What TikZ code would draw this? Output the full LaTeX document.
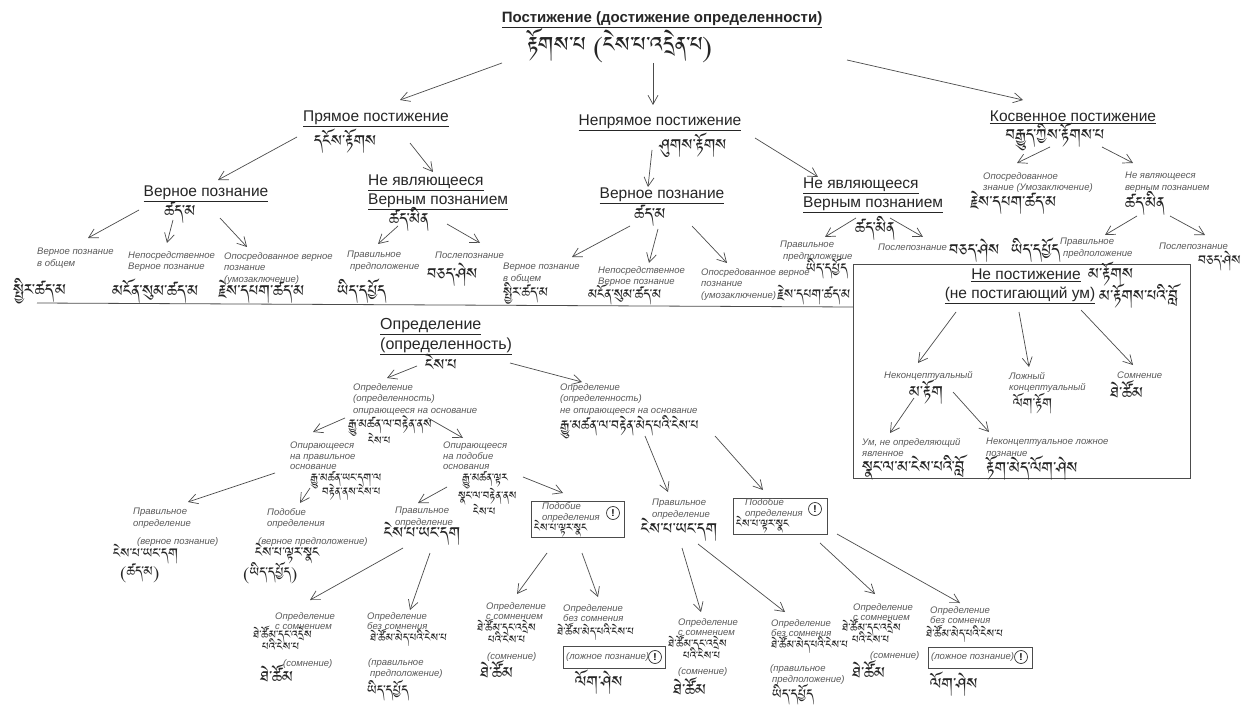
\documentclass[tikz,border=0pt]{standalone}
\usepackage{fontspec}
\usetikzlibrary{arrows.meta}
\setmainfont{Liberation Sans}
\IfFontExistsTF{Jomolhari}{\newfontfamily\tibfam[Script=Tibetan]{Jomolhari}}{%
 \IfFontExistsTF{Tibetan Machine Uni}{\newfontfamily\tibfam[Script=Tibetan]{Tibetan Machine Uni}}{%
 \IfFontExistsTF{FreeSerif}{\newfontfamily\tibfam[Script=Tibetan]{FreeSerif}}{\newfontfamily\tibfam{Noto Sans}}}}
\newcommand\myhf{\fontsize{15.5}{18.5}\selectfont}
\newcommand\myttl{\fontsize{15}{18}\selectfont\bfseries}
\newcommand\mylab{\fontsize{9.5}{11.5}\selectfont\itshape}
\newcommand\mylabt{\fontsize{9.5}{10.5}\selectfont\itshape}
\newcommand\mytb{\tibfam\fontsize{20}{22}\selectfont}
\newcommand\mytbm{\tibfam\fontsize{17}{19}\selectfont}
\newcommand\mytbl{\tibfam\fontsize{27}{29}\selectfont}
\newcommand\mytbs{\tibfam\fontsize{14}{15}\selectfont}
\begin{document}
\begin{tikzpicture}[x=1pt,y=-1pt,
 hd/.style={font=\myhf, inner sep=0pt, text=black!85},
 hdm/.style={font=\myhf, inner sep=0pt, text=black!85, align=left, anchor=north west},
 ttl/.style={font=\myttl, inner sep=0pt, text=black!85},
 lab/.style={font=\mylab, inner sep=0pt, anchor=north west, align=left, text=black!65},
 labt/.style={font=\mylabt, inner sep=0pt, anchor=north west, align=left, text=black!65},
 tb/.style={font=\mytb, inner sep=0pt, text=black!85},
 tbm/.style={font=\mytbm, inner sep=0pt, text=black!85},
 tbl/.style={font=\mytbl, inner sep=0pt, text=black!85},
 tbs/.style={font=\mytbs, inner sep=0pt, text=black!85},
 arr/.style={draw=black!70, line width=0.7pt, -{Straight Barb[length=9pt,width=10pt]}},
 bx/.style={draw=black!70, line width=0.8pt, anchor=north west, inner sep=0pt},
 exc/.style={circle, draw=black!80, line width=0.7pt, inner sep=0pt, minimum size=13pt, font=\fontsize{10}{10}\selectfont\bfseries}
]
\fill[white] (0,0) rectangle (1250,711);
\useasboundingbox (0,0) rectangle (1250,711);

% ---------- top ----------
\node[ttl] (root) at (662,20) {\underline{Постижение (достижение определенности)}};
\node[tbl] (rootT) at (620,46) {རྟོགས་པ (ངེས་པ་འདྲེན་པ)};

\node[hd] (pr) at (376,119) {\underline{Прямое постижение}};
\node[tb] (prT) at (345,141) {དངོས་རྟོགས};
\node[hd] (np) at (660,123) {\underline{Непрямое постижение}};
\node[tb] (npT) at (693,145) {ཤུགས་རྟོགས};
\node[hd] (kp) at (1073,117) {\underline{Косвенное постижение}};
\node[tb] (kpT) at (1055,137) {བརྒྱུད་ཀྱིས་རྟོགས་པ};

\draw[arr] ([shift={(-118,17)}]rootT.center) -- ([shift={(24,-19)}]pr.center);
\draw[arr] ([shift={(33,17)}]rootT.center) -- ([shift={(-7,-18)}]np.center);
\draw[arr] ([shift={(185,40)}]root.center) -- ([shift={(-50,-17)}]kp.center);

% ---------- direct ----------
\node[hd] (vp1) at (206,194) {\underline{Верное познание}};
\node[tb] (vp1T) at (180,213) {ཚད་མ};
\node[hdm] (nv1) at (368,175) {\underline{Не являющееся}\\\underline{Верным познанием}};
\node[tb] (nv1T) at (409,219) {ཚད་མིན};
\draw[arr] ([shift={(-48,-4)}]prT.center) -- ([shift={(12,-14)}]vp1.center);
\draw[arr] ([shift={(65,2)}]prT.center) -- ([shift={(65,-3)}]nv1.north west);

\node[lab] (l1) at (37,248) {Верное познание\\в общем};
\node[lab] (l2) at (128,251) {Непосредственное\\Верное познание};
\node[lab] (l3) at (224,252) {Опосредованное верное\\познание\\(умозаключение)};
\node[lab] (l4) at (347,251) {Правильное\\\hspace{3pt}предположение};
\node[lab] (l5) at (435,252) {Послепознание};
\node[tb, anchor=west] (l1T) at (13,291) {སྤྱིར་ཚད་མ};
\node[tb, anchor=west] (l2T) at (112,291) {མངོན་སུམ་ཚད་མ};
\node[tb, anchor=west] (l3T) at (218,292) {རྗེས་དཔག་ཚད་མ};
\node[tb, anchor=west] (l4T) at (337,291) {ཡིད་དཔྱོད};
\node[tb, anchor=west] (l5T) at (427,275) {བཅད་ཤེས};
\draw[arr] ([shift={(-41,-3)}]vp1T.center) -- ([shift={(51,-10)}]l1.north west);
\draw[arr] ([shift={(-7,7)}]vp1T.center) -- ([shift={(39,-8)}]l2.north west);
\draw[arr] ([shift={(40,5)}]vp1T.center) -- ([shift={(23,-5)}]l3.north west);
\draw[arr] ([shift={(-11,7)}]nv1T.center) -- ([shift={(31,-7)}]l4.north west);
\draw[arr] ([shift={(38,5)}]nv1T.center) -- ([shift={(45,-9)}]l5.north west);

% ---------- indirect ----------
\node[hd] (vp2) at (662,196) {\underline{Верное познание}};
\node[tb] (vp2T) at (650,216) {ཚད་མ};
\node[hdm] (nv2) at (803,178) {\underline{Не являющееся}\\\underline{Верным познанием}};
\node[tb] (nv2T) at (875,228) {ཚད་མིན};
\draw[arr] ([shift={(-41,5)}]npT.center) -- ([shift={(-14,-9)}]vp2.center);
\draw[arr] ([shift={(62,-7)}]npT.center) -- ([shift={(15,-1)}]nv2.north west);

\node[lab] (m1) at (503,263) {Верное познание\\в общем};
\node[lab] (m2) at (598,266) {Непосредственное\\Верное познание};
\node[lab] (m3) at (701,268) {Опосредованное верное\\познание\\(умозаключение)};
\node[tbm, anchor=west] (m1T) at (503,293) {སྤྱིར་ཚད་མ};
\node[tbm, anchor=west] (m2T) at (588,295) {མངོན་སུམ་ཚད་མ};
\node[tbm, anchor=west] (m3T) at (777,295) {རྗེས་དཔག་ཚད་མ};
\draw[arr] ([shift={(-20,10)}]vp2T.center) -- ([shift={(69,-6)}]m1.north west);
\draw[arr] ([shift={(8,13)}]vp2T.center) -- ([shift={(51,-3)}]m2.north west);
\draw[arr] ([shift={(42,10)}]vp2T.center) -- ([shift={(26,-5)}]m3.north west);

\node[lab] (m4) at (780,241) {Правильное\\\hspace{3pt}предположение};
\node[tbm, anchor=west] (m4T) at (806,269) {ཡིད་དཔྱོད};
\node[lab] (m5) at (878,244) {Послепознание};
\node[tb, anchor=west] (m5T) at (949,251) {བཅད་ཤེས};
\draw[arr] ([shift={(-19,-10)}]nv2T.center) -- ([shift={(45,-4)}]m4.north west);
\draw[arr] ([shift={(15,-10)}]nv2T.center) -- ([shift={(45,-7)}]m5.north west);

% ---------- mediated ----------
\node[lab] (r1) at (983,172) {Опосредованное\\знание (Умозаключение)};
\node[tb, anchor=west] (r1T) at (970,203) {རྗེས་དཔག་ཚད་མ};
\node[lab] (r2) at (1125,172) {Не являющееся\\верным познанием};
\node[tb] (r2T) at (1145,203) {ཚད་མིན};
\draw[arr] ([shift={(-5,10)}]kpT.center) -- ([shift={(34,-9)}]r1.north west);
\draw[arr] ([shift={(47,10)}]kpT.center) -- ([shift={(8,-9)}]r2.north west);

\node[lab] (r3) at (1060,238) {Правильное\\\hspace{3pt}предположение};
\node[tb, anchor=west] (r3T) at (1011,250) {ཡིད་དཔྱོད};
\node[lab] (r4) at (1159,243) {Послепознание};
\node[tbm, anchor=east] (r4T) at (1241,261) {བཅད་ཤེས};
\draw[arr] ([shift={(-8,13)}]r2T.center) -- ([shift={(45,-3)}]r3.north west);
\draw[arr] ([shift={(25,13)}]r2T.center) -- ([shift={(46,-8)}]r4.north west);

% ---------- separator ----------
\coordinate (hl1) at (37,303);
\coordinate (hl2) at (853,307);
\draw[black!70, line width=0.8pt] (hl1) -- (hl2);

% ---------- non-realization box ----------
\node[bx, minimum width=337pt, minimum height=214pt] (nbox) at (853,264) {};
\node[hd] (nb) at (1026,275) {\underline{Не постижение}};
\node[tb, anchor=west] (nbT) at (1088,274) {མ་རྟོགས};
\node[hd] (nb2) at (1020,295) {\underline{(не постигающий ум)}};
\node[tb, anchor=west] (nb2T) at (1099,296) {མ་རྟོགས་པའི་བློ};

\node[lab] (b1) at (884,371) {Неконцептуальный};
\node[tb] (b1T) at (926,392) {མ་རྟོག};
\node[lab] (b2) at (1009,372) {Ложный\\концептуальный};
\node[tbm, anchor=west] (b2T) at (1013,404) {ལོག་རྟོག};
\node[lab] (b3) at (1117,372) {Сомнение};
\node[tb, anchor=west] (b3T) at (1110,391) {ཐེ་ཚོམ};
\draw[arr] ([shift={(-64,17)}]nb2.center) -- ([shift={(34,-8)}]b1.north west);
\draw[arr] ([shift={(-1,17)}]nb2.center) -- ([shift={(20,-5)}]b2.north west);
\draw[arr] ([shift={(61,15)}]nb2.center) -- ([shift={(16,-7)}]b3.north west);

\node[lab] (b4) at (862,438) {Ум, не определяющий\\явленное};
\node[tb, anchor=west] (b4T) at (862,468) {སྣང་ལ་མ་ངེས་པའི་བློ};
\node[lab] (b5) at (986,438) {Неконцептуальное ложное\\познание};
\node[tb, anchor=west] (b5T) at (986,468) {རྟོག་མེད་ལོག་ཤེས};
\draw[arr] ([shift={(-12,6)}]b1T.center) -- ([shift={(28,-5)}]b4.north west);
\draw[arr] ([shift={(27,0)}]b1T.center) -- ([shift={(3,-6)}]b5.north west);

% ---------- determination ----------
\node[hdm, font=\fontsize{16}{20}\selectfont] (dh) at (380,318) {\underline{Определение}\\\underline{(определенность)}};
\node[tb] (dhT) at (441,364) {ངེས་པ};

\node[lab] (d1) at (353,383) {Определение\\(определенность)\\опирающееся на основание};
\node[tbs, font=\tibfam\fontsize{15.5}{17}\selectfont] (d1T) at (390,426) {རྒྱུ་མཚན་ལ་བརྟེན་ནས};
\node[tbs, anchor=west] (d1T2) at (368,440) {ངེས་པ};
\node[lab] (d2) at (560,383) {Определение\\(определенность)\\не опирающееся на основание};
\node[tbm, anchor=west] (d2T) at (560,427) {རྒྱུ་མཚན་ལ་བརྟེན་མེད་པའི་ངེས་པ};
\draw[arr] ([shift={(-24,2)}]dhT.center) -- ([shift={(34,-5)}]d1.north west);
\draw[arr] ([shift={(69,-1)}]dhT.center) -- ([shift={(22,-1)}]d2.north west);

\node[labt] (e1) at (290,442) {Опирающееся\\на правильное\\основание};
\node[tbs] (e1T) at (346,480) {རྒྱུ་མཚན་ཡང་དག་ལ};
\node[tbs, anchor=west] (e1T2) at (322,492) {བརྟེན་ནས་ངེས་པ};
\node[labt] (e2) at (443,442) {Опирающееся\\на подобие\\основания};
\node[tbs] (e2T) at (485,480) {རྒྱུ་མཚན་ལྟར};
\node[tbs, anchor=west] (e2T2) at (458,497) {སྣང་ལ་བརྟེན་ནས};
\node[tbs, anchor=west] (e2T3) at (473,511) {ངེས་པ};
\draw[arr] ([shift={(-45,-8)}]d1T.center) -- ([shift={(23,-10)}]e1.north west);
\draw[arr] ([shift={(38,-8)}]d1T.center) -- ([shift={(20,-4)}]e2.north west);

% left subtree
\node[lab] (f1) at (133,508) {Правильное\\определение};
\node[lab] (f1b) at (137,537) {(верное познание)};
\node[tbm, anchor=west] (f1T) at (113,554) {ངེས་པ་ཡང་དག};
\node[tbm, anchor=west] (f1T2) at (120,573) {(ཚད་མ)};
\node[lab] (f2) at (267,508) {Подобие\\определения};
\node[lab] (f2b) at (258,537) {(верное предположение)};
\node[tbm, anchor=west] (f2T) at (255,554) {ངེས་པ་ལྟར་སྣང};
\node[tbm, anchor=west] (f2T2) at (243,573) {(ཡིད་དཔྱོད)};
\draw[arr] ([shift={(-71,-7)}]e1T.center) -- ([shift={(55,-6)}]f1.north west);
\draw[arr] ([shift={(-36,8)}]e1T.center) -- ([shift={(33,-5)}]f2.north west);

\node[lab] (f3) at (395,507) {Правильное\\определение};
\node[tb] (f3T) at (422,534) {ངེས་པ་ཡང་དག};
\node[bx, minimum width=93pt, minimum height=36pt] (box1) at (531,501) {};
\node[lab] (box1a) at (542,502) {Подобие\\определения};
\node[tbs, anchor=west] (box1T) at (534,529) {ངེས་པ་ལྟར་སྣང};
\node[exc] (box1x) at (613,513) {!};
\draw[arr] ([shift={(-38,7)}]e2T.center) -- ([shift={(23,-4)}]f3.north west);
\draw[arr] ([shift={(38,-3)}]e2T.center) -- ([shift={(32,-8)}]box1.north west);

\node[labt] (g1) at (275,612) {Определение\\с сомнением};
\node[tbs, anchor=west] (g1T1) at (253,635) {ཐེ་ཚོམ་དང་འདྲེས};
\node[tbs, anchor=west] (g1T2) at (262,646) {པའི་ངེས་པ};
\node[lab] (g1c) at (283,659) {(сомнение)};
\node[tb, anchor=west] (g1T3) at (260,675) {ཐེ་ཚོམ};
\node[labt] (g2) at (367,612) {Определение\\без сомнения};
\node[tbs, anchor=west] (g2T1) at (370,638) {ཐེ་ཚོམ་མེད་པའི་ངེས་པ};
\node[lab] (g2c) at (368,658) {(правильное\\\hspace{2pt}предположение)};
\node[tbm, anchor=west] (g2T2) at (367,691) {ཡིད་དཔྱོད};
\draw[arr] ([shift={(-19,14)}]f3T.center) -- ([shift={(35,-12)}]g1.north west);
\draw[arr] ([shift={(8,19)}]f3T.center) -- ([shift={(43,-2)}]g2.north west);

\node[labt] (h1) at (486,602) {Определение\\с сомнением};
\node[tbs, anchor=west] (h1T1) at (477,628) {ཐེ་ཚོམ་དང་འདྲེས};
\node[tbs, anchor=west] (h1T2) at (488,639) {པའི་ངེས་པ};
\node[lab] (h1c) at (487,652) {(сомнение)};
\node[tb, anchor=west] (h1T3) at (480,671) {ཐེ་ཚོམ};
\node[labt] (h2) at (563,604) {Определение\\без сомнения};
\node[tbs, anchor=west] (h2T) at (557,632) {ཐེ་ཚོམ་མེད་པའི་ངེས་པ};
\node[bx, minimum width=102pt, minimum height=22pt] (h2box) at (563,646) {};
\node[lab, anchor=west] (h2c) at (566,657) {(ложное познание)};
\node[exc] (h2x) at (655,657) {!};
\node[tb, anchor=west] (h2T2) at (575,682) {ལོག་ཤེས};
\draw[arr] ([shift={(16,52)}]box1.north west) -- ([shift={(31,-8)}]h1.north west);
\draw[arr] ([shift={(51,52)}]box1.north west) -- ([shift={(35,-7)}]h2.north west);

% right subtree
\node[lab] (i1) at (652,499) {Правильное\\определение};
\node[tb] (i1T) at (679,530) {ངེས་པ་ཡང་དག};
\node[bx, minimum width=94pt, minimum height=36pt] (box2) at (733,498) {};
\node[lab] (box2a) at (745,498) {Подобие\\определения};
\node[tbs, anchor=west] (box2T) at (736,525) {ངེས་པ་ལྟར་སྣང};
\node[exc] (box2x) at (815,509) {!};
\draw[arr] ([shift={(85,9)}]d2T.west) -- ([shift={(16,-7)}]i1.north west);
\draw[arr] ([shift={(155,9)}]d2T.west) -- ([shift={(30,-8)}]box2.north west);

\node[labt] (j1) at (678,618) {Определение\\с сомнением};
\node[tbs, anchor=west] (j1T1) at (668,644) {ཐེ་ཚོམ་དང་འདྲེས};
\node[tbs, anchor=west] (j1T2) at (683,655) {པའི་ངེས་པ};
\node[lab] (j1c) at (678,667) {(сомнение)};
\node[tb, anchor=west] (j1T3) at (673,688) {ཐེ་ཚོམ};
\node[labt] (j2) at (771,619) {Определение\\без сомнения};
\node[tbs, anchor=west] (j2T) at (771,645) {ཐེ་ཚོམ་མེད་པའི་ངེས་པ};
\node[lab] (j2c) at (770,664) {(правильное\\\hspace{2pt}предположение)};
\node[tbm, anchor=west] (j2T2) at (772,695) {ཡིད་དཔྱོད};
\draw[arr] ([shift={(3,18)}]i1T.center) -- ([shift={(23,-6)}]j1.north west);
\draw[arr] ([shift={(19,14)}]i1T.center) -- ([shift={(14,-7)}]j2.north west);

\node[labt] (k1) at (853,603) {Определение\\с сомнением};
\node[tbs, anchor=west] (k1T1) at (842,628) {ཐེ་ཚོམ་དང་འདྲེས};
\node[tbs, anchor=west] (k1T2) at (852,639) {པའི་ངེས་པ};
\node[lab] (k1c) at (870,651) {(сомнение)};
\node[tb, anchor=west] (k1T3) at (852,671) {ཐེ་ཚོམ};
\node[labt] (k2) at (930,606) {Определение\\без сомнения};
\node[tbs, anchor=west] (k2T) at (926,634) {ཐེ་ཚོམ་མེད་པའི་ངེས་པ};
\node[bx, minimum width=104pt, minimum height=21pt] (k2box) at (928,647) {};
\node[lab, anchor=west] (k2c) at (931,657) {(ложное познание)};
\node[exc] (k2x) at (1021,657) {!};
\node[tb, anchor=west] (k2T2) at (930,684) {ལོག་ཤེས};
\draw[arr] ([shift={(87,45)}]box2.north west) -- ([shift={(22,-9)}]k1.north west);
\draw[arr] ([shift={(104,36)}]box2.north west) -- ([shift={(30,-3)}]k2.north west);
\end{tikzpicture}
\end{document}
